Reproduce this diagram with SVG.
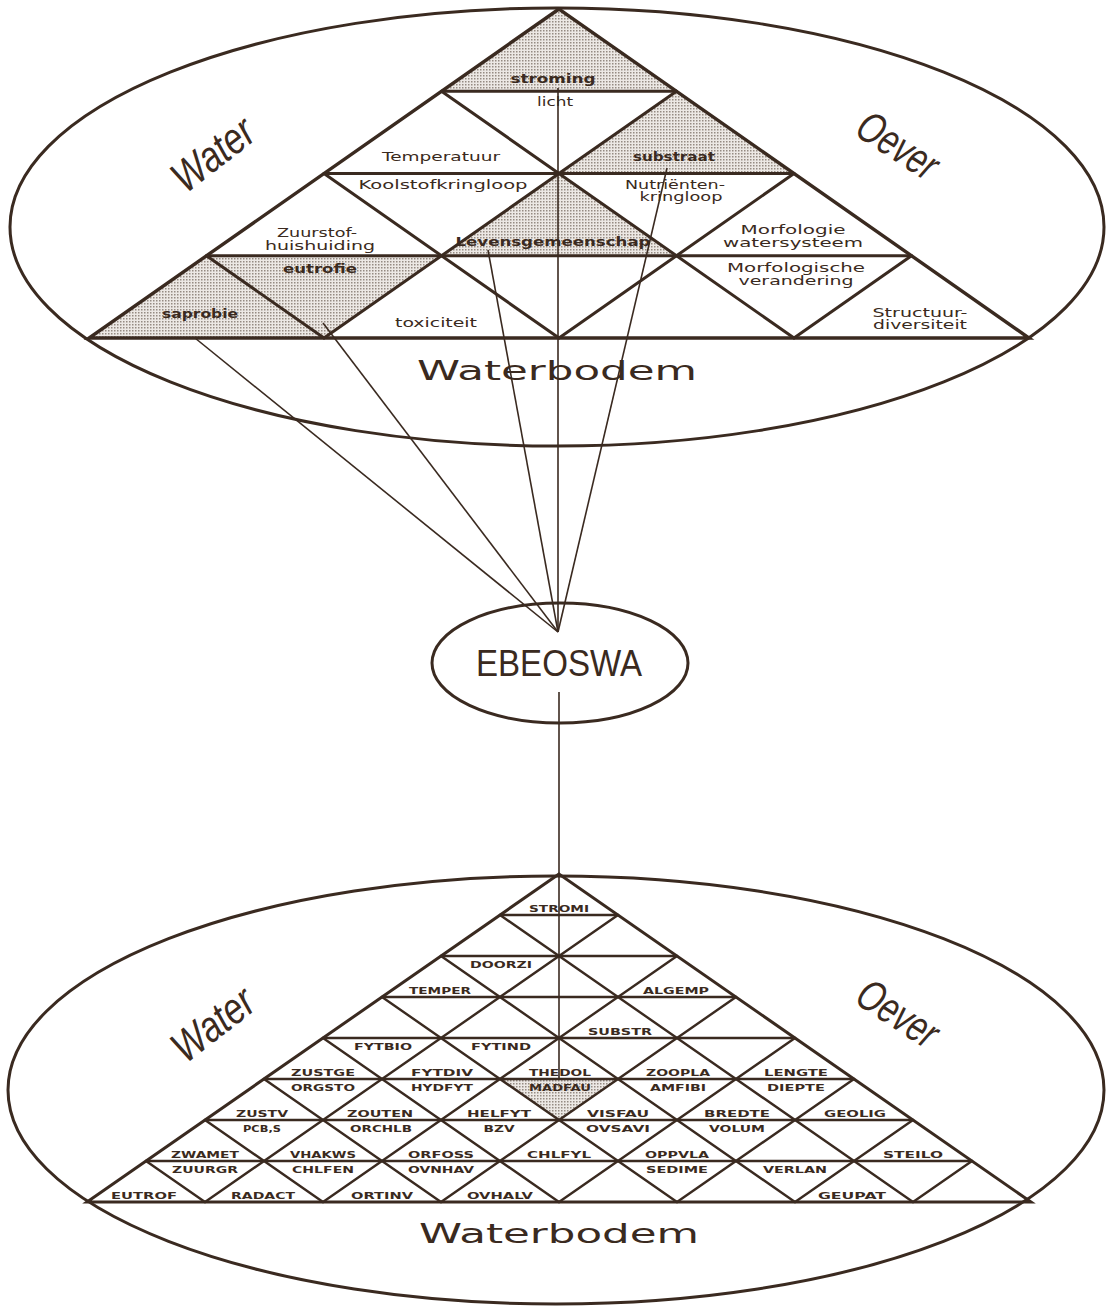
<svg xmlns="http://www.w3.org/2000/svg" width="1106" height="1307" viewBox="0 0 1106 1307">
<defs>
<pattern id="stip" width="3" height="3" patternUnits="userSpaceOnUse"><rect width="3" height="3" fill="#ece8e4"/><rect width="1.5" height="1.5" fill="#958b82"/></pattern>
<style>
.ell{fill:none;stroke:#3a2a20;stroke-width:3}
.grid{stroke:#3a2a20;stroke-width:3;fill:none;stroke-linecap:round}
.gridb{stroke:#3a2a20;stroke-width:2.4;fill:none;stroke-linecap:round}
.shade{fill:url(#stip);stroke:none}
.con{stroke:#3a2a20;stroke-width:1.6;fill:none}
.t{font-family:"DejaVu Sans",sans-serif;font-size:12px;fill:#3a2a20;text-anchor:middle}
.ts{font-weight:bold}
.b{font-family:"DejaVu Sans",sans-serif;font-size:9.5px;font-weight:bold;fill:#3a2a20;text-anchor:middle}
.big{font-family:"DejaVu Sans",sans-serif;font-size:26px;fill:#3a2a20;text-anchor:middle}
.side{font-family:"Liberation Sans",sans-serif;font-size:44px;font-style:italic;fill:#3a2a20;text-anchor:middle}
.eb{font-family:"Liberation Sans",sans-serif;font-size:37px;fill:#3a2a20;text-anchor:middle}
</style>
</defs>
<rect width="1106" height="1307" fill="#ffffff"/>

<g id="top-model">
<ellipse class="ell" cx="557" cy="227" rx="547" ry="219"/>
<g id="top-shading">
<polygon class="shade" points="559,9 441.5,91.25 676.5,91.25"/>
<polygon class="shade" points="676.5,91.25 559,173.5 794,173.5"/>
<polygon class="shade" points="559,173.5 441.5,255.75 676.5,255.75"/>
<polygon class="shade" points="206.5,255.75 441.5,255.75 324,338"/>
<polygon class="shade" points="206.5,255.75 89,338 324,338"/>
</g>
<g id="top-grid" class="grid">
<polygon points="559,9 89,338 1029,338" stroke-width="3.4" stroke-linejoin="miter"/>
<line x1="441.5" y1="91.25" x2="676.5" y2="91.25"/>
<line x1="324" y1="173.5" x2="794" y2="173.5"/>
<line x1="206.5" y1="255.75" x2="911.5" y2="255.75"/>
<line x1="441.5" y1="91.25" x2="794" y2="338"/>
<line x1="324" y1="173.5" x2="559" y2="338"/>
<line x1="206.5" y1="255.75" x2="324" y2="338"/>
<line x1="676.5" y1="91.25" x2="324" y2="338"/>
<line x1="794" y1="173.5" x2="559" y2="338"/>
<line x1="911.5" y1="255.75" x2="794" y2="338"/>
</g>
<g id="top-labels">
<text class="t ts" x="553" y="83" textLength="85" lengthAdjust="spacingAndGlyphs">stroming</text>
<text class="t" x="555" y="106" textLength="36" lengthAdjust="spacingAndGlyphs">licht</text>
<text class="t" x="441" y="161" textLength="118" lengthAdjust="spacingAndGlyphs">Temperatuur</text>
<text class="t ts" x="674" y="161" textLength="82" lengthAdjust="spacingAndGlyphs">substraat</text>
<text class="t" x="443" y="189" textLength="169" lengthAdjust="spacingAndGlyphs">Koolstofkringloop</text>
<text class="t" x="675" y="189" textLength="100" lengthAdjust="spacingAndGlyphs">Nutriënten-</text>
<text class="t" x="681" y="201" textLength="83" lengthAdjust="spacingAndGlyphs">kringloop</text>
<text class="t" x="317" y="237" textLength="80" lengthAdjust="spacingAndGlyphs">Zuurstof-</text>
<text class="t" x="320" y="250" textLength="110" lengthAdjust="spacingAndGlyphs">huishuiding</text>
<text class="t ts" x="553" y="246" textLength="195" lengthAdjust="spacingAndGlyphs">Levensgemeenschap</text>
<text class="t" x="793" y="234" textLength="105" lengthAdjust="spacingAndGlyphs">Morfologie</text>
<text class="t" x="793" y="247" textLength="140" lengthAdjust="spacingAndGlyphs">watersysteem</text>
<text class="t" x="796" y="272" textLength="138" lengthAdjust="spacingAndGlyphs">Morfologische</text>
<text class="t" x="796" y="285" textLength="115" lengthAdjust="spacingAndGlyphs">verandering</text>
<text class="t" x="920" y="317" textLength="95" lengthAdjust="spacingAndGlyphs">Structuur-</text>
<text class="t" x="920" y="329" textLength="94" lengthAdjust="spacingAndGlyphs">diversiteit</text>
<text class="t ts" x="320" y="273" textLength="74" lengthAdjust="spacingAndGlyphs">eutrofie</text>
<text class="t ts" x="200" y="318" textLength="76" lengthAdjust="spacingAndGlyphs">saprobie</text>
<text class="t" x="436" y="327" textLength="82" lengthAdjust="spacingAndGlyphs">toxiciteit</text>
</g>
<text class="side" transform="translate(222,166) rotate(-38)" textLength="92" lengthAdjust="spacingAndGlyphs">Water</text>
<text class="side" transform="translate(890,158) rotate(33)" textLength="88" lengthAdjust="spacingAndGlyphs">Oever</text>
<text class="big" x="557" y="380" textLength="280" lengthAdjust="spacingAndGlyphs">Waterbodem</text>
</g>

<g id="connectors" class="con">
<line x1="558" y1="632" x2="558" y2="88"/>
<line x1="558" y1="632" x2="667" y2="168"/>
<line x1="558" y1="632" x2="488" y2="250"/>
<line x1="558" y1="632" x2="323" y2="323"/>
<line x1="558" y1="632" x2="195" y2="338"/>
<line x1="559" y1="692" x2="559" y2="1079"/>
</g>

<g id="ebeoswa">
<ellipse class="ell" cx="560" cy="663" rx="128" ry="60"/>
<text class="eb" x="559" y="676" textLength="166" lengthAdjust="spacingAndGlyphs">EBEOSWA</text>
</g>

<g id="bottom-model">
<ellipse class="ell" cx="556" cy="1090" rx="548" ry="214"/>
<polygon class="shade" points="500,1079 618,1079 559,1120"/>
<g id="bottom-grid" class="gridb">
<polygon points="559,874 87,1202 1031,1202" stroke-width="3" stroke-linejoin="miter"/>
<line x1="500" y1="915" x2="618" y2="915"/>
<line x1="441" y1="956" x2="677" y2="956"/>
<line x1="382" y1="997" x2="736" y2="997"/>
<line x1="323" y1="1038" x2="795" y2="1038"/>
<line x1="264" y1="1079" x2="854" y2="1079"/>
<line x1="205" y1="1120" x2="913" y2="1120"/>
<line x1="146" y1="1161" x2="972" y2="1161"/>
<line x1="500" y1="915" x2="913" y2="1202"/>
<line x1="441" y1="956" x2="795" y2="1202"/>
<line x1="382" y1="997" x2="677" y2="1202"/>
<line x1="323" y1="1038" x2="559" y2="1202"/>
<line x1="264" y1="1079" x2="441" y2="1202"/>
<line x1="205" y1="1120" x2="323" y2="1202"/>
<line x1="146" y1="1161" x2="205" y2="1202"/>
<line x1="618" y1="915" x2="205" y2="1202"/>
<line x1="677" y1="956" x2="323" y2="1202"/>
<line x1="736" y1="997" x2="441" y2="1202"/>
<line x1="795" y1="1038" x2="559" y2="1202"/>
<line x1="854" y1="1079" x2="677" y2="1202"/>
<line x1="913" y1="1120" x2="795" y2="1202"/>
<line x1="972" y1="1161" x2="913" y2="1202"/>
</g>
<g id="bottom-labels">
<text class="b" x="559" y="912" textLength="60" lengthAdjust="spacingAndGlyphs">STROMI</text>
<text class="b" x="501" y="968" textLength="62" lengthAdjust="spacingAndGlyphs">DOORZI</text>
<text class="b" x="440" y="994" textLength="62" lengthAdjust="spacingAndGlyphs">TEMPER</text>
<text class="b" x="676" y="994" textLength="66" lengthAdjust="spacingAndGlyphs">ALGEMP</text>
<text class="b" x="383" y="1050" textLength="58" lengthAdjust="spacingAndGlyphs">FYTBIO</text>
<text class="b" x="501" y="1050" textLength="60" lengthAdjust="spacingAndGlyphs">FYTIND</text>
<text class="b" x="620" y="1035" textLength="64" lengthAdjust="spacingAndGlyphs">SUBSTR</text>
<text class="b" x="323" y="1076" textLength="64" lengthAdjust="spacingAndGlyphs">ZUSTGE</text>
<text class="b" x="442" y="1076" textLength="62" lengthAdjust="spacingAndGlyphs">FYTDIV</text>
<text class="b" x="560" y="1076" textLength="62" lengthAdjust="spacingAndGlyphs">THEDOL</text>
<text class="b" x="678" y="1076" textLength="64" lengthAdjust="spacingAndGlyphs">ZOOPLA</text>
<text class="b" x="796" y="1076" textLength="64" lengthAdjust="spacingAndGlyphs">LENGTE</text>
<text class="b" x="323" y="1091" textLength="64" lengthAdjust="spacingAndGlyphs">ORGSTO</text>
<text class="b" x="442" y="1091" textLength="62" lengthAdjust="spacingAndGlyphs">HYDFYT</text>
<text class="b" x="560" y="1091" textLength="62" lengthAdjust="spacingAndGlyphs">MADFAU</text>
<text class="b" x="678" y="1091" textLength="56" lengthAdjust="spacingAndGlyphs">AMFIBI</text>
<text class="b" x="796" y="1091" textLength="58" lengthAdjust="spacingAndGlyphs">DIEPTE</text>
<text class="b" x="262" y="1117" textLength="52" lengthAdjust="spacingAndGlyphs">ZUSTV</text>
<text class="b" x="380" y="1117" textLength="66" lengthAdjust="spacingAndGlyphs">ZOUTEN</text>
<text class="b" x="499" y="1117" textLength="64" lengthAdjust="spacingAndGlyphs">HELFYT</text>
<text class="b" x="618" y="1117" textLength="62" lengthAdjust="spacingAndGlyphs">VISFAU</text>
<text class="b" x="737" y="1117" textLength="66" lengthAdjust="spacingAndGlyphs">BREDTE</text>
<text class="b" x="855" y="1117" textLength="62" lengthAdjust="spacingAndGlyphs">GEOLIG</text>
<text class="b" x="262" y="1132" textLength="38" lengthAdjust="spacingAndGlyphs">PCB,S</text>
<text class="b" x="381" y="1132" textLength="62" lengthAdjust="spacingAndGlyphs">ORCHLB</text>
<text class="b" x="499" y="1132" textLength="31" lengthAdjust="spacingAndGlyphs">BZV</text>
<text class="b" x="618" y="1132" textLength="64" lengthAdjust="spacingAndGlyphs">OVSAVI</text>
<text class="b" x="737" y="1132" textLength="56" lengthAdjust="spacingAndGlyphs">VOLUM</text>
<text class="b" x="205" y="1158" textLength="68" lengthAdjust="spacingAndGlyphs">ZWAMET</text>
<text class="b" x="323" y="1158" textLength="66" lengthAdjust="spacingAndGlyphs">VHAKWS</text>
<text class="b" x="441" y="1158" textLength="66" lengthAdjust="spacingAndGlyphs">ORFOSS</text>
<text class="b" x="559" y="1158" textLength="64" lengthAdjust="spacingAndGlyphs">CHLFYL</text>
<text class="b" x="677" y="1158" textLength="64" lengthAdjust="spacingAndGlyphs">OPPVLA</text>
<text class="b" x="913" y="1158" textLength="60" lengthAdjust="spacingAndGlyphs">STEILO</text>
<text class="b" x="205" y="1173" textLength="66" lengthAdjust="spacingAndGlyphs">ZUURGR</text>
<text class="b" x="323" y="1173" textLength="62" lengthAdjust="spacingAndGlyphs">CHLFEN</text>
<text class="b" x="441" y="1173" textLength="66" lengthAdjust="spacingAndGlyphs">OVNHAV</text>
<text class="b" x="677" y="1173" textLength="62" lengthAdjust="spacingAndGlyphs">SEDIME</text>
<text class="b" x="795" y="1173" textLength="64" lengthAdjust="spacingAndGlyphs">VERLAN</text>
<text class="b" x="144" y="1199" textLength="66" lengthAdjust="spacingAndGlyphs">EUTROF</text>
<text class="b" x="263" y="1199" textLength="64" lengthAdjust="spacingAndGlyphs">RADACT</text>
<text class="b" x="382" y="1199" textLength="62" lengthAdjust="spacingAndGlyphs">ORTINV</text>
<text class="b" x="500" y="1199" textLength="66" lengthAdjust="spacingAndGlyphs">OVHALV</text>
<text class="b" x="852" y="1199" textLength="68" lengthAdjust="spacingAndGlyphs">GEUPAT</text>
</g>
<text class="side" transform="translate(222,1036) rotate(-38)" textLength="92" lengthAdjust="spacingAndGlyphs">Water</text>
<text class="side" transform="translate(890,1026) rotate(33)" textLength="88" lengthAdjust="spacingAndGlyphs">Oever</text>
<text class="big" x="559" y="1243" textLength="280" lengthAdjust="spacingAndGlyphs">Waterbodem</text>
</g>
</svg>
